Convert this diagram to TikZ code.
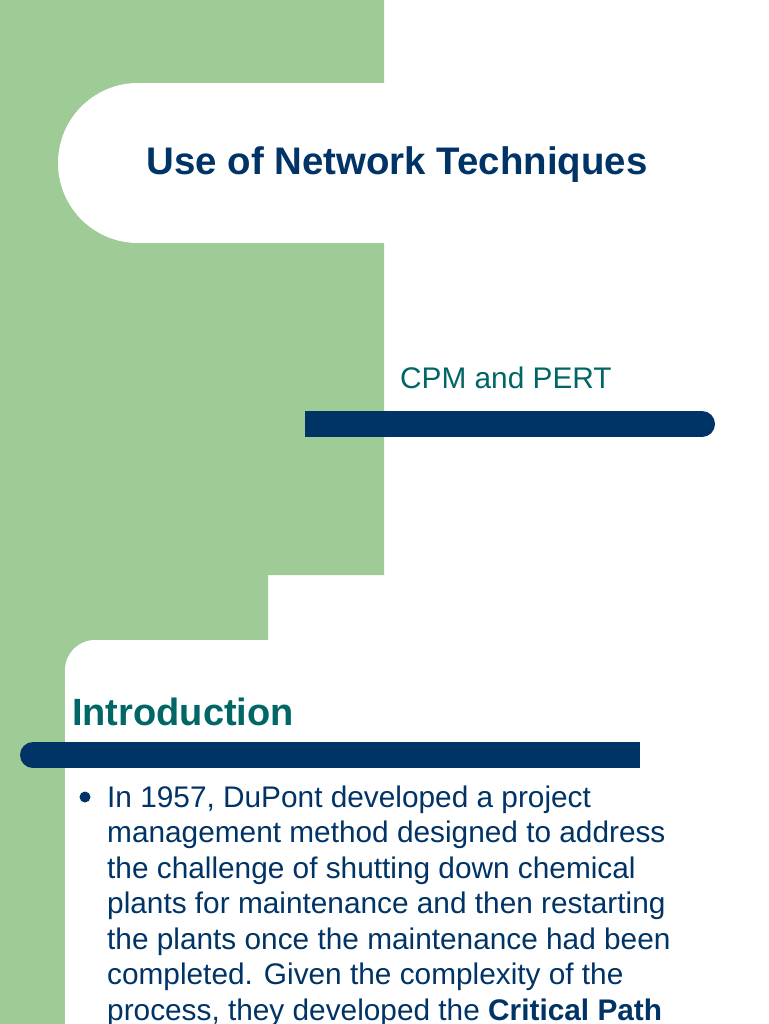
\documentclass[tikz,border=0pt]{standalone}
\usepackage{fontspec}
\setmainfont{Liberation Sans}
\definecolor{sgreen}{HTML}{9ECB96}
\definecolor{navy}{HTML}{003366}
\definecolor{teal2}{HTML}{006666}
\begin{document}
\begin{tikzpicture}[x=1pt,y=-1pt,
  bar/.style={fill=navy,draw=none},
  body/.style={anchor=base west,inner sep=0,font=\fontsize{29.8}{29.8}\selectfont,text=navy}]
\useasboundingbox (0,0) rectangle (768,1024);
\clip (0,0) rectangle (768,1024);
\fill[white] (0,0) rectangle (768,1024);
% green background
\fill[sgreen] (0,0) -- (384,0) -- (384,575) -- (268,575) -- (268,640) -- (95,640) -- (95,1024) -- (0,1024) -- cycle;
\fill[white] (95,640) rectangle (768,1024);
\fill[white] (65,670) rectangle (96,1024);
\fill[white] (95,670) circle[radius=30];
% title shape
\fill[white] (138,83) rectangle (385,243);
\fill[white] (138,163) circle[radius=80];
% bars
\fill[bar] (305,411) rectangle (702,437);
\fill[bar] (702,424) circle[radius=13];
\fill[bar] (33,742) rectangle (640,768);
\fill[bar] (33,755) circle[radius=13];
% texts
\node[anchor=base,inner sep=0,font=\bfseries\fontsize{38.4}{38.4}\selectfont,text=navy] (title) at (397,175) {Use of Network Techniques};
\node[anchor=base west,inner sep=0,font=\fontsize{29.8}{29.8}\selectfont,text=teal2] (sub) at (400,388) {CPM and PERT};
\node[anchor=base west,inner sep=0,font=\bfseries\fontsize{38}{38}\selectfont,text=teal2] (intro) at (72,725) {Introduction};
\fill[navy] (85,797) circle[radius=5.5];
\node[body] (l1) at (107,807) {In 1957, DuPont developed a project};
\node[body] (l2) at (107,842.5) {management method designed to address};
\node[body] (l3) at (107,878) {the challenge of shutting down chemical};
\node[body] (l4) at (107,913.5) {plants for maintenance and then restarting};
\node[body] (l5) at (107,949) {the plants once the maintenance had been};
\node[body] (l6) at (107,984.5) {completed. Given the complexity of the};
\node[body] (l7) at (107,1020) {process, they developed the \textbf{Critical Path}};
\end{tikzpicture}
\end{document}
